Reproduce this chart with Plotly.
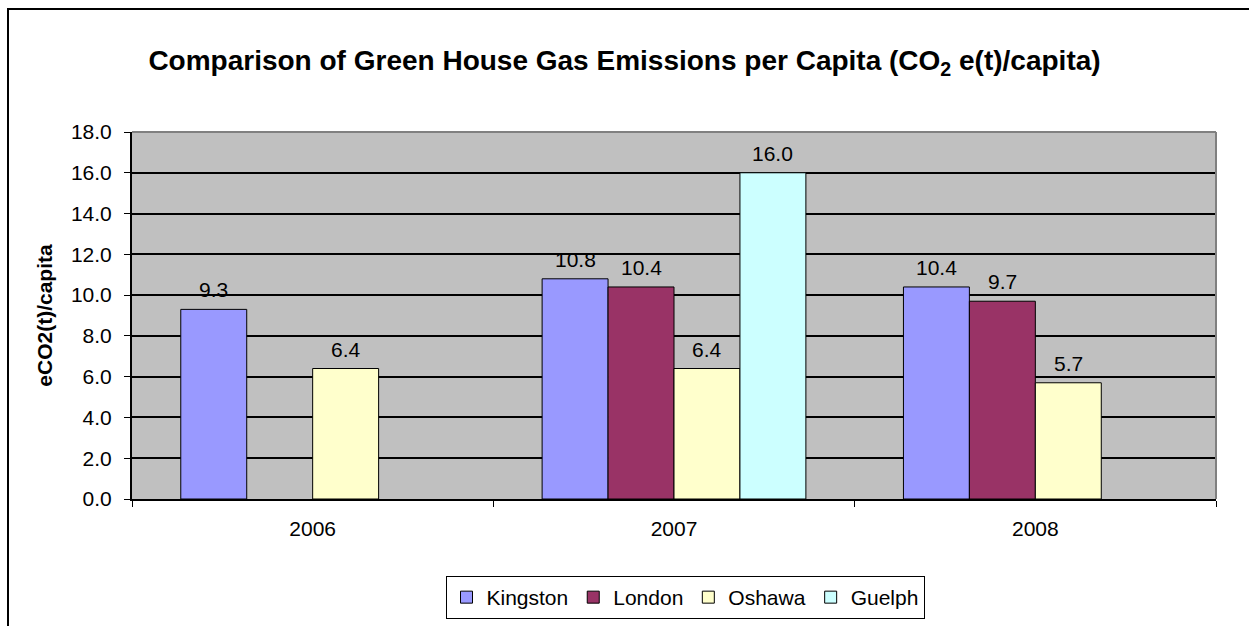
import plotly.graph_objects as go

# Emissions per capita (CO2 e(t)/capita) by city and year
years = ["2006", "2007", "2008"]
kingston = [9.3, 10.8, 10.4]
london = [None, 10.4, 9.7]
oshawa = [6.4, 6.4, 5.7]
guelph = [None, 16.0, None]

series = [
    ("Kingston", kingston, "#9999FF"),
    ("London", london, "#993366"),
    ("Oshawa", oshawa, "#FFFFCC"),
    ("Guelph", guelph, "#CCFFFF"),
]

FONT = "Arial, Liberation Sans, sans-serif"
SIZE = 21
BARGAP = 0.27

fig = go.Figure()
for name, vals, color in series:
    fig.add_trace(go.Bar(
        name=name,
        x=years,
        y=vals,
        marker=dict(color=color, line=dict(color="black", width=1)),
    ))

# Value labels above each bar (grouped slot centres on the category axis)
slot = (1 - BARGAP) / len(series)
for j, (name, vals, color) in enumerate(series):
    for i, v in enumerate(vals):
        if v is None:
            continue
        fig.add_annotation(
            x=i - (1 - BARGAP) / 2 + (j + 0.5) * slot,
            y=v,
            xref="x", yref="y",
            text=f"{v:.1f}",
            showarrow=False,
            yanchor="bottom",
            yshift=6,
            font=dict(family=FONT, size=SIZE, color="black"),
        )

fig.update_layout(
    width=1249,
    height=626,
    margin=dict(l=132, r=33, t=132, b=127, autoexpand=False),
    paper_bgcolor="white",
    plot_bgcolor="#C0C0C0",
    barmode="group",
    bargap=BARGAP,
    bargroupgap=0,
    font=dict(family=FONT, size=SIZE, color="black"),
    title=dict(
        text="<b>Comparison of Green House Gas Emissions per Capita (CO<sub>2</sub> e(t)/capita)</b>",
        x=0.5, xref="container", xanchor="center",
        y=1 - 60 / 626, yref="container", yanchor="middle",
        font=dict(family=FONT, size=28, color="black"),
    ),
    xaxis=dict(
        type="category",
        range=[-0.5, 2.5],
        automargin=False,
        tickson="boundaries",
        ticks="outside",
        ticklen=6,
        tickcolor="black",
        tickwidth=1,
        ticklabelstandoff=10,
        showgrid=False,
        showline=True,
        linecolor="black",
        linewidth=2,
        tickfont=dict(family=FONT, size=SIZE),
    ),
    yaxis=dict(
        range=[0, 18],
        automargin=False,
        dtick=2,
        tickformat=".1f",
        ticks="outside",
        ticklen=6,
        tickcolor="black",
        ticklabelstandoff=8,
        showgrid=True,
        gridcolor="black",
        gridwidth=1.5,
        showline=True,
        linecolor="black",
        linewidth=2,
        zeroline=False,
        tickfont=dict(family=FONT, size=SIZE),
        title=dict(text="<b>eCO2(t)/capita</b>", font=dict(family=FONT, size=SIZE), standoff=13),
    ),
    legend=dict(
        orientation="h",
        x=(685 - 132) / 1084, xanchor="center",
        y=(499 - 576) / 367, yanchor="top",
        bordercolor="black",
        borderwidth=1,
        bgcolor="white",
        font=dict(family=FONT, size=SIZE),
        itemwidth=30,
        tracegroupgap=0,
    ),
    showlegend=True,
)

# Gray top and right edges of the plot area
fig.add_shape(type="line", xref="paper", yref="paper", x0=0, x1=1, y0=1, y1=1,
              line=dict(color="#808080", width=2))
fig.add_shape(type="line", xref="paper", yref="paper", x0=1, x1=1, y0=0, y1=1,
              line=dict(color="#808080", width=2))

# Outer chart frame
fig.add_shape(type="rect", xref="paper", yref="paper",
              x0=(8 - 132) / 1084, x1=1.2, y0=-0.5, y1=(499 - 9) / 367,
              line=dict(color="black", width=2), fillcolor="rgba(0,0,0,0)", layer="below")

fig.write_html("out.html")
